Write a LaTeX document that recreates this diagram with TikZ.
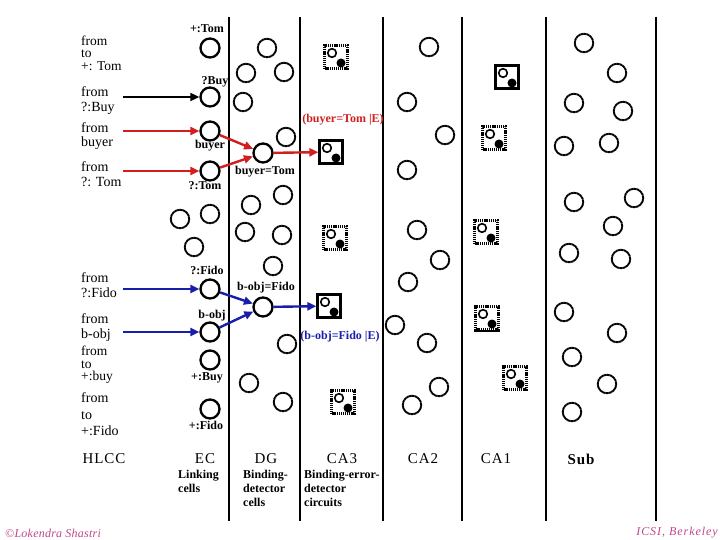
\documentclass[tikz,border=0pt]{standalone}
\usepackage{fontspec}
\setmainfont{Liberation Serif}
\newfontfamily\spacedfont[LetterSpace=6]{Liberation Serif}
\newfontfamily\footfont[LetterSpace=8]{Liberation Serif}
\newfontfamily\footfontb[LetterSpace=2]{Liberation Serif}
\usetikzlibrary{arrows.meta}
\definecolor{arrred}{RGB}{210,30,30}
\definecolor{arrblue}{RGB}{25,30,170}
\definecolor{footpink}{RGB}{190,70,140}
\tikzset{
  cell/.style={circle,draw,line width=2.3pt,minimum size=19pt,inner sep=0pt},
  bgcell/.style={circle,draw,line width=1.9pt,minimum size=18.5pt,inner sep=0pt,dash pattern=on 2.6pt off 0.4pt},
  sqsolid/.style={draw,line width=2.2pt,minimum size=23pt,inner sep=0pt},
  sqdash/.style={draw,line width=2.2pt,minimum size=23pt,inner sep=0pt,dash pattern=on 1.1pt off 0.8pt},
  colline/.style={line width=1.6pt},
  lbl/.style={font=\fontsize{12}{12}\selectfont\bfseries,inner sep=0pt},
  fromlbl/.style={anchor=west,align=left,inner sep=0pt},
  arr/.style={line width=1.8pt,-{Triangle[length=9pt,width=8pt]}},
  redarr/.style={arr,arrred,line width=2.4pt},
  bluearr/.style={arr,arrblue,line width=2.4pt},
  area/.style={font=\fontsize{15}{15}\spacedfont,inner sep=0pt},
  sublbl/.style={font=\fontsize{12}{14}\selectfont\bfseries,anchor=north west,align=left,inner sep=0pt},
  foot/.style={font=\fontsize{12}{12}\footfont\itshape,text=footpink,inner sep=0pt}
}
\newcommand\errbox[4]{%
  \node[#4] (#1) at (#2,#3) {};
  \draw[line width=1.6pt] (#2-4,#3-4) circle[radius=4.3];
  \fill (#2+5,#3+6) circle[radius=4.5];}
\begin{document}
\begin{tikzpicture}[x=1pt,y=-1pt]
\useasboundingbox (0,0) rectangle (720,540);
% column lines
\foreach \cx in {229,300,383,462,546,656}
  \draw[colline] (\cx,17) -- (\cx,521);

% left labels
\node[fromlbl,font=\fontsize{13.5}{12.5}\selectfont] (l1) at (81,53) {from\\to\\+: Tom};
\node[fromlbl,font=\fontsize{14}{15}\selectfont] (l2) at (81,100.5) {from\\?:Buy};
\node[fromlbl,font=\fontsize{14}{14.5}\selectfont] (l3) at (81,136) {from\\buyer};
\node[fromlbl,font=\fontsize{14}{15}\selectfont] (l4) at (81,174.5) {from\\?: Tom};
\node[fromlbl,font=\fontsize{14}{15}\selectfont] (l5) at (81,285.5) {from\\?:Fido};
\node[fromlbl,font=\fontsize{14}{15}\selectfont] (l6) at (81,327.5) {from\\b-obj};
\node[fromlbl,font=\fontsize{13.5}{12.5}\selectfont] (l7) at (81,365) {from\\to\\+:buy};
\node[fromlbl,font=\fontsize{14}{16.5}\selectfont] (l8) at (81,414.5) {from\\to\\+:Fido};

% EC cells
\node[cell] (tomP) at (210,48) {};
\node[cell] (buyQ) at (210,97) {};
\node[cell] (buyer) at (210,131) {};
\node[cell] (tomQ) at (210,171) {};
\node[cell] (fidoQ) at (210,289) {};
\node[cell] (bobj) at (210,332) {};
\node[cell] (buyP) at (210,360) {};
\node[cell] (fidoP) at (210,409) {};
\node[lbl] (tTomP) at (207,29) {+:Tom};
\node[lbl] (tBuyQ) at (215,82) {?Buy};
\node[lbl] (tBuyer) at (210,146) {buyer};
\node[lbl] (tTomQ) at (205,186) {?:Tom};
\node[lbl] (tFidoQ) at (207,270) {?:Fido};
\node[lbl] (tBobj) at (212,316) {b-obj};
\node[lbl] (tBuyP) at (207,378) {+:Buy};
\node[lbl] (tFidoP) at (206,425) {+:Fido};
\foreach \x/\y [count=\i] in {180/219,210/214,194/247}
  \node[bgcell] (ec\i) at (\x,\y) {};

% arrows from the left
\coordinate (s2) at (123,97);
\coordinate (s3) at (123,131);
\coordinate (s4) at (123,171);
\coordinate (s5) at (123,289);
\coordinate (s6) at (123,332);
\draw[arr] (s2) -- (buyQ);
\draw[redarr] (s3) -- (buyer);
\draw[redarr] (s4) -- (tomQ);
\draw[bluearr] (s5) -- (fidoQ);
\draw[bluearr] (s6) -- (bobj);

% DG
\node[cell] (bT) at (263,153) {};
\node[cell] (bF) at (263,307) {};
\node[lbl] (tbT) at (265,172) {buyer=Tom};
\node[lbl] (tbF) at (266,288) {b-obj=Fido};
\foreach \x/\y [count=\i] in {267/48,246/73,284/72,243/102,286/137,283/195,251/205,245/232,282/235,273/266,287/344,249/383,283/402}
  \node[bgcell] (dg\i) at (\x,\y) {};
\draw[redarr] (buyer) -- (bT);
\draw[redarr] (tomQ) -- (bT);
\draw[bluearr] (fidoQ) -- (bF);
\draw[bluearr] (bobj) -- (bF);

% CA3
\errbox{e1}{336}{57}{sqdash}
\errbox{eT}{331}{152}{sqsolid}
\errbox{e2}{335}{238}{sqdash}
\errbox{eF}{329}{306}{sqsolid}
\errbox{e3}{343}{402}{sqdash}
\node[lbl,text=arrred] (teT) at (343,120) {(buyer=Tom |E)};
\node[lbl,text=arrblue] (teF) at (340,337) {(b-obj=Fido |E)};
\draw[redarr] (bT) -- (eT);
\draw[bluearr] (bF) -- (eF);

% CA2
\foreach \x/\y [count=\i] in {429/47,407/102,445/135,407/170,417/230,440/260,408/282,395/325,427/343,439/387,412/405}
  \node[bgcell] (ca2\i) at (\x,\y) {};

% CA1
\errbox{a1}{507}{77}{sqsolid}
\errbox{a2}{494}{138}{sqdash}
\errbox{a3}{486}{232}{sqdash}
\errbox{a4}{487}{318}{sqdash}
\draw[line width=2.2pt] (a4.south west) -- (a4.south east);
\errbox{a5}{515}{378}{sqdash}

% Sub
\foreach \x/\y [count=\i] in {584/43,617/73,574/103,623/111,564/146,609/143,574/202,634/198,613/226,569/253,621/259,564/312,617/333,572/357,607/384,572/412}
  \node[bgcell] (sub\i) at (\x,\y) {};

% bottom labels
\node[area] (hlcc) at (104,459) {HLCC};
\node[area] (aEC) at (205,459) {EC};
\node[area] (aDG) at (266,459) {DG};
\node[area] (aCA3) at (342,459) {CA3};
\node[area] (aCA2) at (423,459) {CA2};
\node[area] (aCA1) at (496,459) {CA1};
\node[area,font=\fontsize{15}{15}\spacedfont\bfseries] (aSub) at (581,459) {Sub};
\node[sublbl] (sEC) at (178,470) {Linking\\cells};
\node[sublbl] (sDG) at (243,470) {Binding-\\detector\\cells};
\node[sublbl] (sCA3) at (304,470) {Binding-error-\\detector\\circuits};

% footer
\node[foot,anchor=west,font=\fontsize{12}{12}\footfontb\itshape] (f1) at (5,533) {©Lokendra Shastri};
\node[foot,anchor=east] (f2) at (718,533) {ICSI, Berkeley};
\end{tikzpicture}
\end{document}
